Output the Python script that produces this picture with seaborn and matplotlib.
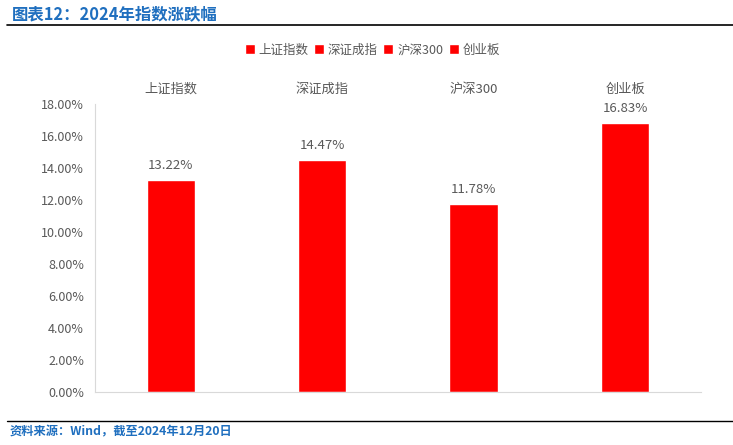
import matplotlib
matplotlib.use("Agg")
import matplotlib.pyplot as plt
import seaborn as sns
import pandas as pd
from matplotlib.ticker import FuncFormatter

categories = ["上证指数", "深证成指", "沪深300", "创业板"]
changes = [13.22, 14.47, 11.78, 16.83]
y_ticks = [0, 2, 4, 6, 8, 10, 12, 14, 16, 18]

title = "图表12：2024年指数涨跌幅"
source = "资料来源：Wind，截至2024年12月20日"

sns.set_style("white")
plt.rcParams["font.family"] = ["Noto Sans CJK SC", "DejaVu Sans"]

df = pd.DataFrame({"指数": categories, "涨跌幅": changes})

fig = plt.figure(figsize=(7.33, 4.45), dpi=100)
ax = fig.add_axes([0.1296, 0.1191, 0.8267, 0.6472])

sns.barplot(data=df, x="指数", y="涨跌幅", hue="指数",
            palette=["#FF0000"] * len(categories), dodge=False,
            saturation=1, width=0.32, ax=ax, legend=True)

text_color = "#595959"
for i, v in enumerate(changes):
    ax.text(i, v + 0.5, f"{v:.2f}%", ha="center", va="bottom",
            fontsize=9.5, color=text_color)

ax.set_ylim(0, 18)
ax.set_yticks(y_ticks)
ax.yaxis.set_major_formatter(FuncFormatter(lambda y, _: f"{y:.2f}%"))
ax.tick_params(axis="y", labelsize=9, colors=text_color, length=0, pad=8)
ax.xaxis.tick_top()
ax.tick_params(axis="x", labelsize=9.5, colors=text_color, length=0, pad=6)
ax.set_xlabel("")
ax.set_ylabel("")
ax.set_xlim(-0.5, len(categories) - 0.5)

for side in ["top", "right"]:
    ax.spines[side].set_visible(False)
ax.spines["left"].set_color("#D9D9D9")
ax.spines["bottom"].set_color("#D9D9D9")

leg = ax.legend(loc="center", ncol=4, frameon=False,
                fontsize=9, handlelength=0.8, handleheight=0.8,
                handletextpad=0.3, columnspacing=0.45)
leg.set_bbox_to_anchor((0.508, 1 - 50 / 445), transform=fig.transFigure)
for t in leg.get_texts():
    t.set_color(text_color)
for h in leg.legend_handles:
    h.set_facecolor("#FF0000")

blue = "#1F6FBF"
fig.text(12 / 733, 1 - 14 / 445, title, ha="left", va="center",
         fontsize=11.8, fontweight="bold", color=blue)
fig.add_artist(plt.Line2D([7 / 733, 1.0], [1 - 25 / 445] * 2,
                          color="black", lw=1.2))
fig.add_artist(plt.Line2D([7 / 733, 1.0], [1 - 421 / 445] * 2,
                          color="black", lw=1.0))
fig.text(10 / 733, 1 - 432 / 445, source, ha="left", va="center",
         fontsize=8.8, fontweight="bold", color=blue)

fig.savefig("out.png", dpi=100)
